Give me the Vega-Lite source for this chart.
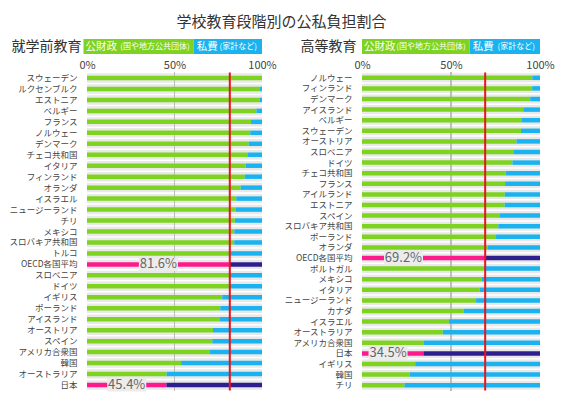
{
  "$schema": "https://vega.github.io/schema/vega-lite/v6.json",
  "padding": {"left": 8, "top": 15, "right": 5, "bottom": 4},
  "background": "white",
  "title": {"text": "学校教育段階別の公私負担割合", "fontSize": 15, "font": "Noto Sans CJK JP", "fontWeight": "normal", "color": "#333333", "anchor": "middle", "offset": 9},
  "datasets": {
    "pre": [
      {"country": "スウェーデン", "public": 100},
      {"country": "ルクセンブルク", "public": 98.9},
      {"country": "エストニア", "public": 98.8},
      {"country": "ベルギー", "public": 96.8},
      {"country": "フランス", "public": 93.7},
      {"country": "ノルウェー", "public": 93.3},
      {"country": "デンマーク", "public": 92.4},
      {"country": "チェコ共和国", "public": 92.0},
      {"country": "イタリア", "public": 90.7},
      {"country": "フィンランド", "public": 90.1},
      {"country": "オランダ", "public": 87.8},
      {"country": "イスラエル", "public": 85.3},
      {"country": "ニュージーランド", "public": 85.1},
      {"country": "チリ", "public": 84.5},
      {"country": "メキシコ", "public": 84.2},
      {"country": "スロバキア共和国", "public": 84.1},
      {"country": "トルコ", "public": 81.9},
      {"country": "OECD各国平均", "public": 81.6},
      {"country": "スロベニア", "public": 81.5},
      {"country": "ドイツ", "public": 81.4},
      {"country": "イギリス", "public": 77.3},
      {"country": "ポーランド", "public": 76.2},
      {"country": "アイスランド", "public": 76.0},
      {"country": "オーストリア", "public": 72.0},
      {"country": "スペイン", "public": 71.6},
      {"country": "アメリカ合衆国", "public": 70.0},
      {"country": "韓国", "public": 53.8},
      {"country": "オーストラリア", "public": 45.5},
      {"country": "日本", "public": 45.4}
    ],
    "ter": [
      {"country": "ノルウェー", "public": 95.7},
      {"country": "フィンランド", "public": 95.6},
      {"country": "デンマーク", "public": 94.5},
      {"country": "アイスランド", "public": 90.6},
      {"country": "ベルギー", "public": 89.9},
      {"country": "スウェーデン", "public": 89.3},
      {"country": "オーストリア", "public": 86.8},
      {"country": "スロベニア", "public": 85.0},
      {"country": "ドイツ", "public": 84.5},
      {"country": "チェコ共和国", "public": 80.7},
      {"country": "フランス", "public": 80.4},
      {"country": "アイルランド", "public": 80.2},
      {"country": "エストニア", "public": 80.1},
      {"country": "スペイン", "public": 77.2},
      {"country": "スロバキア共和国", "public": 76.6},
      {"country": "ポーランド", "public": 75.3},
      {"country": "オランダ", "public": 70.5},
      {"country": "OECD各国平均", "public": 69.2},
      {"country": "ポルトガル", "public": 68.6},
      {"country": "メキシコ", "public": 67.1},
      {"country": "イタリア", "public": 66.2},
      {"country": "ニュージーランド", "public": 64.1},
      {"country": "カナダ", "public": 57.2},
      {"country": "イスラエル", "public": 48.8},
      {"country": "オーストラリア", "public": 45.4},
      {"country": "アメリカ合衆国", "public": 34.8},
      {"country": "日本", "public": 34.5},
      {"country": "イギリス", "public": 29.9},
      {"country": "韓国", "public": 26.7},
      {"country": "チリ", "public": 23.9}
    ]
  },
  "columns": 2,
  "align": "each",
  "bounds": "flush",
  "spacing": {"row": 18.5, "column": 100},
  "concat": [
    {
      "width": 175, "height": 15,
      "data": {"values": [{"panel": "就学前教育"}]},
      "layer": [
        {"mark": {"type": "bar", "color": "#7ed321"}, "encoding": {"y": {"field": "panel", "type": "nominal", "scale": {"paddingInner": 0, "paddingOuter": 0}, "axis": {"title": null, "ticks": false, "domain": false, "labelFontSize": 14, "labelColor": "#333333", "labelPadding": 6, "labelLimit": 200}}, "x": {"datum": -2, "type": "quantitative", "scale": {"domain": [0, 100], "nice": false, "clamp": false}, "axis": null}, "x2": {"datum": 61}}},
        {"mark": {"type": "bar", "color": "#1ab3f0"}, "encoding": {"y": {"field": "panel", "type": "nominal"}, "x": {"datum": 61, "type": "quantitative"}, "x2": {"datum": 100}}},
        {"mark": {"type": "text", "align": "left", "dx": 2, "fontSize": 10.5, "color": "white", "text": "公財政"}, "encoding": {"y": {"field": "panel", "type": "nominal"}, "x": {"datum": -2, "type": "quantitative"}}},
        {"mark": {"type": "text", "align": "right", "dx": -4, "fontSize": 8, "color": "white", "text": "(国や地方公共団体)"}, "encoding": {"y": {"field": "panel", "type": "nominal"}, "x": {"datum": 61, "type": "quantitative"}}},
        {"mark": {"type": "text", "align": "left", "dx": 3, "fontSize": 10.5, "color": "white", "text": "私費"}, "encoding": {"y": {"field": "panel", "type": "nominal"}, "x": {"datum": 61, "type": "quantitative"}}},
        {"mark": {"type": "text", "align": "right", "dx": -5, "fontSize": 8, "color": "white", "text": "(家計など)"}, "encoding": {"y": {"field": "panel", "type": "nominal"}, "x": {"datum": 100, "type": "quantitative"}}}
      ]
    },
    {
      "width": 178, "height": 15,
      "data": {"values": [{"panel": "高等教育"}]},
      "layer": [
        {"mark": {"type": "bar", "color": "#7ed321"}, "encoding": {"y": {"field": "panel", "type": "nominal", "scale": {"paddingInner": 0, "paddingOuter": 0}, "axis": {"title": null, "ticks": false, "domain": false, "labelFontSize": 14, "labelColor": "#333333", "labelPadding": 6, "labelLimit": 200}}, "x": {"datum": 0, "type": "quantitative", "scale": {"domain": [0, 100], "nice": false}, "axis": null}, "x2": {"datum": 60.5}}},
        {"mark": {"type": "bar", "color": "#1ab3f0"}, "encoding": {"y": {"field": "panel", "type": "nominal"}, "x": {"datum": 60.5, "type": "quantitative"}, "x2": {"datum": 100}}},
        {"mark": {"type": "text", "align": "left", "dx": 2, "fontSize": 10.5, "color": "white", "text": "公財政"}, "encoding": {"y": {"field": "panel", "type": "nominal"}, "x": {"datum": 0, "type": "quantitative"}}},
        {"mark": {"type": "text", "align": "right", "dx": -4, "fontSize": 8, "color": "white", "text": "(国や地方公共団体)"}, "encoding": {"y": {"field": "panel", "type": "nominal"}, "x": {"datum": 60.5, "type": "quantitative"}}},
        {"mark": {"type": "text", "align": "left", "dx": 3, "fontSize": 10.5, "color": "white", "text": "私費"}, "encoding": {"y": {"field": "panel", "type": "nominal"}, "x": {"datum": 60.5, "type": "quantitative"}}},
        {"mark": {"type": "text", "align": "right", "dx": -5, "fontSize": 8, "color": "white", "text": "(家計など)"}, "encoding": {"y": {"field": "panel", "type": "nominal"}, "x": {"datum": 100, "type": "quantitative"}}}
      ]
    },
    {
      "width": 175, "height": 318,
      "data": {"name": "pre"},
      "layer": [
        {"mark": {"type": "bar", "color": "#e8e8e8"}, "encoding": {"y": {"field": "country", "type": "nominal", "sort": null, "scale": {"paddingInner": 0.14, "paddingOuter": 0.07}, "axis": {"title": null, "ticks": false, "domain": false, "labelFontSize": 8.5, "labelColor": "#444444", "labelPadding": 10, "labelLimit": 200}}, "x": {"datum": 0, "type": "quantitative", "scale": {"domain": [0, 100], "nice": false}, "axis": {"orient": "top", "values": [0, 50, 100], "labelExpr": "datum.value + '%'", "grid": false, "ticks": false, "domain": false, "labelFontSize": 11, "labelColor": "#444444", "labelPadding": 2, "title": null, "labelFlush": false}}, "x2": {"datum": 100}}},
        {"mark": {"type": "rule", "color": "#bdbdbd", "strokeWidth": 1}, "encoding": {"x": {"datum": 50, "type": "quantitative"}}},
        {"mark": {"type": "bar", "height": 4.5}, "encoding": {"y": {"field": "country", "type": "nominal", "sort": null}, "x": {"field": "public", "type": "quantitative"}, "x2": {"datum": 0}, "color": {"condition": {"test": "datum.country === 'OECD各国平均' || datum.country === '日本'", "value": "#ff1a8c"}, "value": "#7ed321"}}},
        {"mark": {"type": "bar", "height": 4.5}, "encoding": {"y": {"field": "country", "type": "nominal", "sort": null}, "x": {"field": "public", "type": "quantitative"}, "x2": {"datum": 100}, "color": {"condition": {"test": "datum.country === 'OECD各国平均' || datum.country === '日本'", "value": "#2e1f8f"}, "value": "#1ab3f0"}}},
        {"transform": [{"filter": "datum.country === 'OECD各国平均' || datum.country === '日本'"}, {"calculate": "datum.public / 2", "as": "labelX"}], "mark": {"type": "point", "shape": "M-1.5,-0.5L1.5,-0.5L1.5,0.5L-1.5,0.5Z", "filled": true, "opacity": 1, "color": "#ececec", "size": 676, "strokeWidth": 0}, "encoding": {"y": {"field": "country", "type": "nominal", "sort": null}, "x": {"field": "labelX", "type": "quantitative"}}},
        {"transform": [{"filter": "datum.country === 'OECD各国平均' || datum.country === '日本'"}, {"calculate": "datum.public / 2", "as": "labelX"}, {"calculate": "format(datum.public, '.1f') + '%'", "as": "labelText"}], "mark": {"type": "text", "fontSize": 13, "color": "#666666", "baseline": "middle"}, "encoding": {"y": {"field": "country", "type": "nominal", "sort": null}, "x": {"field": "labelX", "type": "quantitative"}, "text": {"field": "labelText", "type": "nominal"}}},
        {"transform": [{"filter": "datum.country === 'OECD各国平均'"}], "mark": {"type": "rule", "color": "#e8141e", "strokeWidth": 2}, "encoding": {"x": {"field": "public", "type": "quantitative"}}}
      ]
    },
    {
      "width": 178, "height": 318,
      "data": {"name": "ter"},
      "layer": [
        {"mark": {"type": "bar", "color": "#e8e8e8"}, "encoding": {"y": {"field": "country", "type": "nominal", "sort": null, "scale": {"paddingInner": 0.14, "paddingOuter": 0.07}, "axis": {"title": null, "ticks": false, "domain": false, "labelFontSize": 8.5, "labelColor": "#444444", "labelPadding": 10, "labelLimit": 200}}, "x": {"datum": 0, "type": "quantitative", "scale": {"domain": [0, 100], "nice": false}, "axis": {"orient": "top", "values": [0, 50, 100], "labelExpr": "datum.value + '%'", "grid": false, "ticks": false, "domain": false, "labelFontSize": 11, "labelColor": "#444444", "labelPadding": 2, "title": null, "labelFlush": false}}, "x2": {"datum": 100}}},
        {"mark": {"type": "rule", "color": "#bdbdbd", "strokeWidth": 1}, "encoding": {"x": {"datum": 50, "type": "quantitative"}}},
        {"mark": {"type": "bar", "height": 4.5}, "encoding": {"y": {"field": "country", "type": "nominal", "sort": null}, "x": {"field": "public", "type": "quantitative"}, "x2": {"datum": 0}, "color": {"condition": {"test": "datum.country === 'OECD各国平均' || datum.country === '日本'", "value": "#ff1a8c"}, "value": "#7ed321"}}},
        {"mark": {"type": "bar", "height": 4.5}, "encoding": {"y": {"field": "country", "type": "nominal", "sort": null}, "x": {"field": "public", "type": "quantitative"}, "x2": {"datum": 100}, "color": {"condition": {"test": "datum.country === 'OECD各国平均' || datum.country === '日本'", "value": "#2e1f8f"}, "value": "#1ab3f0"}}},
        {"transform": [{"filter": "datum.country === 'OECD各国平均' || datum.country === '日本'"}, {"calculate": "datum.public / 4 + 6", "as": "labelX"}], "mark": {"type": "point", "shape": "M-1.5,-0.5L1.5,-0.5L1.5,0.5L-1.5,0.5Z", "filled": true, "opacity": 1, "color": "#ececec", "size": 676, "strokeWidth": 0}, "encoding": {"y": {"field": "country", "type": "nominal", "sort": null}, "x": {"field": "labelX", "type": "quantitative"}}},
        {"transform": [{"filter": "datum.country === 'OECD各国平均' || datum.country === '日本'"}, {"calculate": "datum.public / 4 + 6", "as": "labelX"}, {"calculate": "format(datum.public, '.1f') + '%'", "as": "labelText"}], "mark": {"type": "text", "fontSize": 13, "color": "#666666", "baseline": "middle"}, "encoding": {"y": {"field": "country", "type": "nominal", "sort": null}, "x": {"field": "labelX", "type": "quantitative"}, "text": {"field": "labelText", "type": "nominal"}}},
        {"transform": [{"filter": "datum.country === 'OECD各国平均'"}], "mark": {"type": "rule", "color": "#e8141e", "strokeWidth": 2}, "encoding": {"x": {"field": "public", "type": "quantitative"}}}
      ]
    }
  ],
  "config": {
    "font": "Noto Sans CJK JP",
    "view": {"stroke": null}
  }
}
